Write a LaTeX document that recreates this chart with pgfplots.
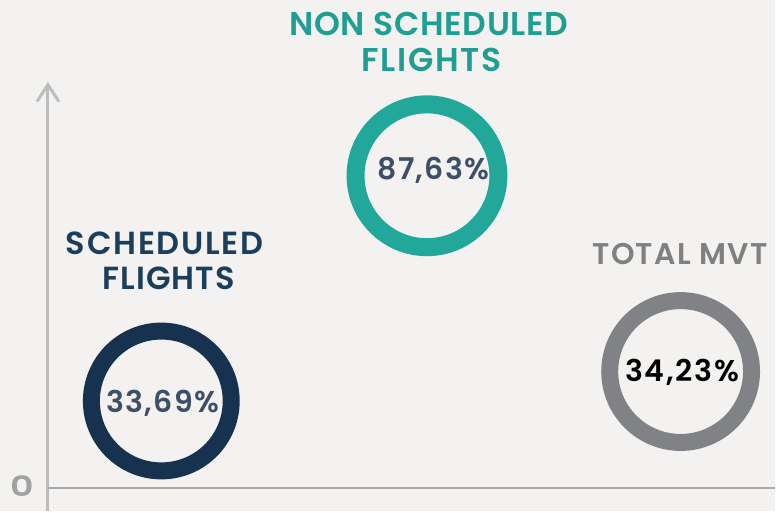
\documentclass[border=0pt]{standalone}
\usepackage{fontspec}
\setmainfont{Poppins}[BoldFont={Poppins SemiBold}]
\usepackage{pgfplots}
\pgfplotsset{compat=1.18}
\usetikzlibrary{arrows.meta}
\definecolor{bgcol}{HTML}{F3F2F0}
\definecolor{navy}{HTML}{16324F}
\definecolor{navytxt}{HTML}{1A3E5C}
\definecolor{teal}{HTML}{21A89A}
\definecolor{tealtxt}{HTML}{1F9E93}
\definecolor{ringgrey}{HTML}{808285}
\definecolor{titlegrey}{HTML}{808080}
\definecolor{pcttxt}{HTML}{3E4F68}
\definecolor{axisgrey}{HTML}{BDBDBD}
\newcommand{\ls}[2]{\addfontfeature{LetterSpace=#1}#2}

\begin{document}
\begin{tikzpicture}
\begin{axis}[
  scale only axis,
  width=776pt, height=512pt,
  xmin=0, xmax=776, ymin=0, ymax=512,
  y dir=reverse,
  hide axis,
  clip=false,
]
\fill[bgcol] (axis cs:0,0) rectangle (axis cs:776,512);

% axes
\addplot[axisgrey, line width=3pt, -{Straight Barb[length=17pt,width=22pt]}]
  coordinates {(48,512) (48,82)};
\addplot[axisgrey!90!black, line width=2pt] coordinates {(48,489) (776,489)};
\node[font=\bfseries\fontsize{28}{28}\selectfont, text=axisgrey!85!black, anchor=base]
  at (axis cs:22,497) {\scalebox{1.3}[1]{0}};

% rings
\addplot[only marks, mark=o, mark size=70pt,
  mark options={draw=navy, line width=17pt}]
  coordinates {(161.5,401.5)};
\addplot[only marks, mark=o, mark size=71.5pt,
  mark options={draw=teal, line width=18pt}]
  coordinates {(427.5,176)};
\addplot[only marks, mark=o, mark size=71pt,
  mark options={draw=ringgrey, line width=17pt}]
  coordinates {(681.5,372)};

% values
\node[font=\bfseries\fontsize{30}{30}\selectfont, text=pcttxt, anchor=base]
  at (axis cs:163,413) {\ls{4}{33,69\%}};
\node[font=\bfseries\fontsize{30}{30}\selectfont, text=pcttxt, anchor=base]
  at (axis cs:434,180) {\ls{4.5}{87,63\%}};
\node[font=\bfseries\fontsize{30}{30}\selectfont, text=black, anchor=base]
  at (axis cs:683,382) {\ls{5.5}{34,23\%}};

% titles
\node[font=\bfseries\fontsize{32}{32}\selectfont, text=navytxt, anchor=base]
  at (axis cs:165,255) {\ls{5.5}{SCHEDULED}};
\node[font=\bfseries\fontsize{32}{32}\selectfont, text=navytxt, anchor=base]
  at (axis cs:169,290) {\ls{3}{FLIGHTS}};
\node[font=\bfseries\fontsize{33}{33}\selectfont, text=tealtxt, anchor=base]
  at (axis cs:429.5,36) {\ls{2}{NON SCHEDULED}};
\node[font=\bfseries\fontsize{33}{33}\selectfont, text=tealtxt, anchor=base]
  at (axis cs:432,72) {\ls{5}{FLIGHTS}};
\node[font=\bfseries\fontsize{30}{30}\selectfont, text=titlegrey, anchor=base]
  at (axis cs:681,265) {\ls{4.5}{TOTAL MVT}};
\end{axis}
\end{tikzpicture}
\end{document}
